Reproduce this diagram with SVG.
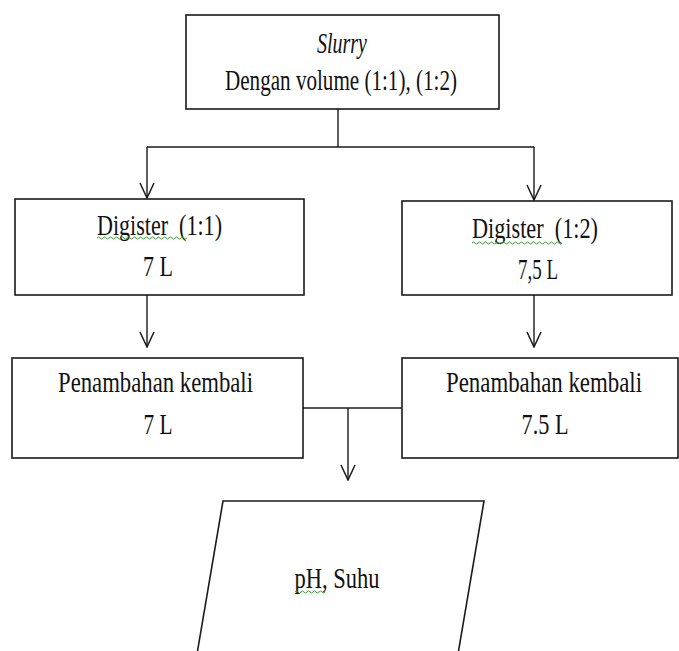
<svg xmlns="http://www.w3.org/2000/svg" width="679" height="651" viewBox="0 0 679 651">
<style>
.box{fill:#fff;stroke:#1a1a1a;stroke-width:1.6}
.ln{fill:none;stroke:#1a1a1a;stroke-width:1.4}
.t{font-family:"Liberation Serif","Times New Roman",serif;font-size:29px;fill:#111;text-anchor:middle}
.sq{fill:none;stroke:#3a9a3a;stroke-width:1}
</style>
<defs>
<marker id="arr" viewBox="-16 -8 17 16" markerWidth="17" markerHeight="16" refX="0" refY="0" orient="auto" markerUnits="userSpaceOnUse">
<path d="M-15,-7 L0,0 L-15,7" fill="none" stroke="#1a1a1a" stroke-width="1.5"/>
</marker>
</defs>
<rect width="679" height="651" fill="#fff"/>
<g id="connectors">
<path class="ln" d="M338,109 V147"/>
<path class="ln" d="M147,147 H534"/>
<path class="ln" d="M147,147 V198" marker-end="url(#arr)"/>
<path class="ln" d="M534,147 V200" marker-end="url(#arr)"/>
<path class="ln" d="M147,295 V347" marker-end="url(#arr)"/>
<path class="ln" d="M534,295 V347" marker-end="url(#arr)"/>
<path class="ln" d="M303,408 H402"/>
<path class="ln" d="M348,408 V480" marker-end="url(#arr)"/>
</g>
<g id="slurry">
<rect class="box" x="186" y="15" width="313" height="94"/>
<text class="t" x="342" y="53" font-style="italic" textLength="50" lengthAdjust="spacingAndGlyphs">Slurry</text>
<text class="t" x="341" y="90" textLength="232" lengthAdjust="spacingAndGlyphs">Dengan volume (1:1), (1:2)</text>
</g>
<g id="digister1">
<rect class="box" x="15" y="199" width="289" height="96"/>
<text class="t" x="159.5" y="235" textLength="125" lengthAdjust="spacingAndGlyphs">Digister&#160; (1:1)</text>
<path class="sq" d="M97,238 q1.5,-2 3,0 t3,0 t3,0 t3,0 t3,0 t3,0 t3,0 t3,0 t3,0 t3,0 t3,0 t3,0 t3,0 t3,0 t3,0 t3,0 t3,0 t3,0 t3,0 t3,0 t3,0 t3,0 t3,0 t3,0 t3,0 t3,0 t3,0 t3,0 t3,0 t3,0"/>
<text class="t" x="158" y="276" textLength="30" lengthAdjust="spacingAndGlyphs">7 L</text>
</g>
<g id="digister2">
<rect class="box" x="402" y="201" width="270" height="94"/>
<text class="t" x="535" y="238" textLength="126" lengthAdjust="spacingAndGlyphs">Digister&#160; (1:2)</text>
<path class="sq" d="M472,243 q1.5,-2 3,0 t3,0 t3,0 t3,0 t3,0 t3,0 t3,0 t3,0 t3,0 t3,0 t3,0 t3,0 t3,0 t3,0 t3,0 t3,0 t3,0 t3,0 t3,0 t3,0 t3,0 t3,0 t3,0 t3,0 t3,0 t3,0 t3,0 t3,0 t3,0 t3,0"/>
<text class="t" x="538" y="279" textLength="40" lengthAdjust="spacingAndGlyphs">7,5 L</text>
</g>
<g id="penambahan1">
<rect class="box" x="12" y="358" width="291" height="100"/>
<text class="t" x="155.5" y="392" textLength="195" lengthAdjust="spacingAndGlyphs">Penambahan kembali</text>
<text class="t" x="158" y="434" textLength="29" lengthAdjust="spacingAndGlyphs">7 L</text>
</g>
<g id="penambahan2">
<rect class="box" x="402" y="358" width="276" height="100"/>
<text class="t" x="544" y="392" textLength="196" lengthAdjust="spacingAndGlyphs">Penambahan kembali</text>
<text class="t" x="545" y="434" textLength="47" lengthAdjust="spacingAndGlyphs">7.5 L</text>
</g>
<g id="phsuhu">
<polygon class="box" points="223,501 484,501 457,660 196,660"/>
<text class="t" x="337" y="588" textLength="85" lengthAdjust="spacingAndGlyphs">pH, Suhu</text>
<path class="sq" d="M295,592 q1.5,-2 3,0 t3,0 t3,0 t3,0 t3,0 t3,0 t3,0 t3,0 t3,0 t3,0"/>
</g>
</svg>
